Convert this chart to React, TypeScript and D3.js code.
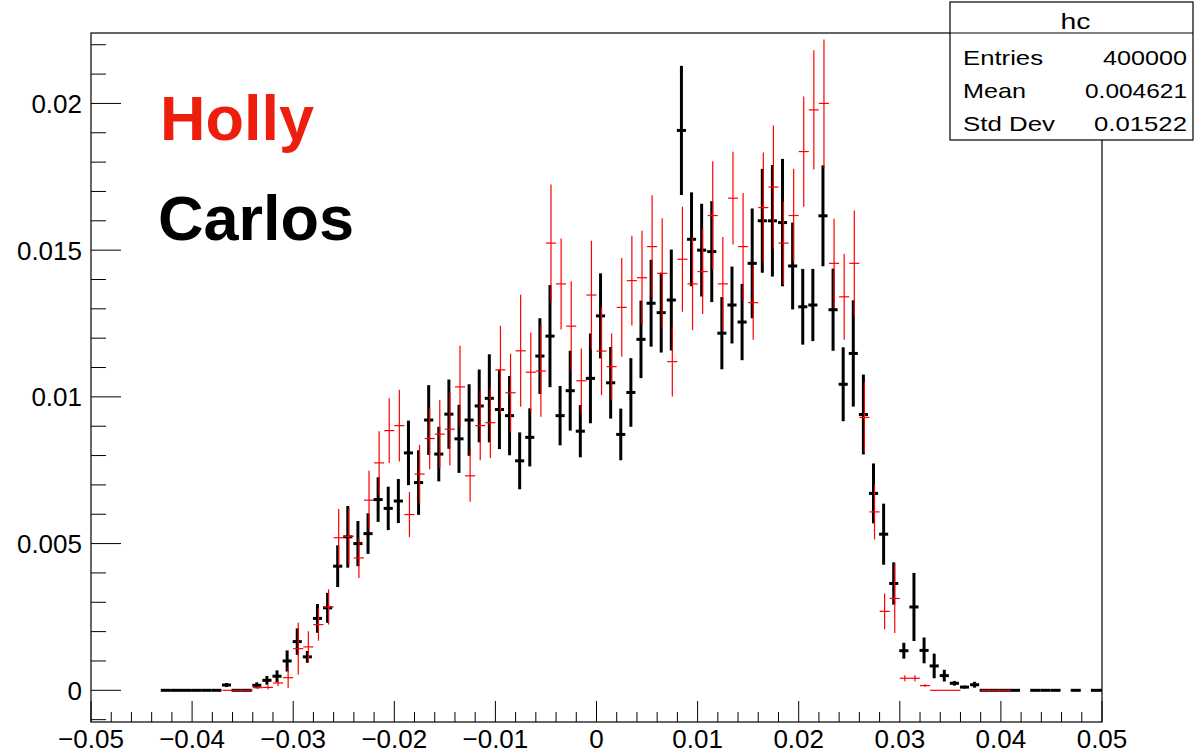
import React from "react";
import * as d3 from "d3";

// Histogram definition (bin k spans BIN_LOW + k*BIN_WIDTH .. +BIN_WIDTH)
const BIN_LOW = -0.0431;
const BIN_WIDTH = 0.001;
const UNIT = 1e-3; // values below are in units of 1e-3

// Carlos (black), starting at bin 0; null = not drawn
const carlosValues: (number | null)[] = [
  0, 0, 0, 0, 0, 0, 0.18, 0, 0, 0.17,
  0.34, 0.48, 1.0, 1.66, 1.14, 2.45, 2.81, 4.23, 5.23, 5.0,
  5.34, 6.5, 6.2, 6.45, 8.09, 7.08, 9.21, 8.05, 9.41, 8.57,
  9.21, 9.69, 9.95, 9.57, 9.36, 7.82, 8.62, 11.39, 12.07, 9.36,
  10.21, 8.83, 10.63, 12.76, 10.48, 8.72, 10.15, 11.96, 13.19, 12.87,
  13.3, 19.08, 15.37, 15.0, 14.95, 12.17, 13.13, 12.55, 14.55, 16.0,
  16.0, 15.94, 14.46, 13.07, 13.13, 16.17, 12.97, 10.43, 11.48, 9.4,
  6.71, 5.32, 3.64, 1.35, 2.84, 1.36, 0.83, 0.5, 0.24, 0.11,
  0.19, 0, 0, 0, 0, null, 0, 0, 0, null,
  0, null, 0, 0,
];
const carlosErrors: number[] = [
  0, 0, 0, 0, 0, 0, 0.07, 0, 0, 0.1,
  0.15, 0.2, 0.36, 0.45, 0.2, 0.49, 0.51, 0.71, 1.05, 0.77,
  0.69, 0.76, 0.74, 0.75, 1.1, 1.1, 1.19, 0.93, 1.18, 1.16,
  1.22, 1.24, 1.5, 1.35, 1.35, 0.97, 0.99, 1.29, 1.74, 1.01,
  1.36, 0.89, 1.53, 1.45, 1.22, 0.88, 1.17, 1.32, 1.48, 1.36,
  1.72, 2.2, 1.6, 1.58, 1.72, 1.23, 1.31, 1.3, 1.87, 1.77,
  1.9, 2.17, 1.48, 1.29, 1.23, 1.72, 1.4, 1.26, 1.81, 1.36,
  1.02, 1.04, 0.72, 0.27, 1.16, 0.44, 0.42, 0.2, 0.08, 0.05,
  0.1, 0, 0, 0, 0, 0, 0, 0, 0, 0,
  0, 0, 0, 0,
];

// Holly (red), starting at bin HOLLY_FIRST_BIN
const HOLLY_FIRST_BIN = 6;
const hollyValues: (number | null)[] = [
  0, 0, 0, 0.09, 0.1, 0.25, 0.43, 1.42, 1.48, 2.24,
  2.84, 5.2, 5.25, 4.51, 6.48, 7.75, 8.85, 9.02, 5.99, 7.37,
  8.58, 8.73, 8.9, 10.34, 7.31, 9.02, 9.12, 10.92, 10.14, 11.57,
  10.84, 10.88, 15.24, 13.85, 12.41, 10.55, 13.47, 11.56, 11.03, 13.05,
  13.96, 14.06, 15.12, 14.21, 11.2, 14.69, 13.85, 14.27, 16.18, 13.85,
  16.77, 15.12, 13.21, 16.45, 17.15, 15.24, 16.18, 18.36, 19.78, 20.0,
  14.55, 13.41, 14.55, 9.3, 6.08, 2.69, 3.13, 0.41, 0.41, 0.16,
  0, 0, 0, null, null, 0, 0, 0,
];
const hollyErrors: number[] = [
  0, 0, 0, 0.05, 0.07, 0.1, 0.35, 0.88, 0.53, 0.55,
  0.6, 0.98, 0.95, 0.68, 1.0, 1.08, 1.1, 1.22, 0.77, 1.0,
  1.05, 1.16, 1.24, 1.4, 0.88, 1.18, 1.2, 1.5, 1.33, 1.91,
  1.35, 1.56, 2.0, 1.55, 1.53, 1.1, 1.85, 1.5, 1.13, 1.68,
  1.53, 1.6, 1.75, 1.88, 1.19, 1.79, 1.58, 1.45, 1.85, 1.6,
  1.58, 1.83, 1.26, 1.88, 2.1, 1.42, 1.59, 1.88, 2.03, 2.18,
  1.52, 1.46, 1.8, 1.2, 0.94, 0.61, 1.18, 0.1, 0.1, 0.05,
  0, 0, 0, 0, 0, 0, 0, 0,
];

const xMajorTicks = [-0.05, -0.04, -0.03, -0.02, -0.01, 0, 0.01, 0.02, 0.03, 0.04, 0.05];
const xTickLabels = ["\u22120.05", "\u22120.04", "\u22120.03", "\u22120.02", "\u22120.01", "0", "0.01", "0.02", "0.03", "0.04", "0.05"];
const yMajorTicks = [0, 0.005, 0.01, 0.015, 0.02];
const yTickLabels = ["0", "0.005", "0.01", "0.015", "0.02"];

const statsTitle = "hc";
const statsLabels = ["Entries", "Mean", "Std Dev"];
const statsValues = ["400000", "0.004621", "0.01522"];

const W = 1204;
const H = 754;
const FRAME = { left: 91, right: 1102, top: 33, bottom: 722 };
const FONT = "'Liberation Sans', Arial, Helvetica, sans-serif";

type Bin = { k: number; v: number; e: number };

function toBins(values: (number | null)[], errors: number[], first: number): Bin[] {
  const out: Bin[] = [];
  values.forEach((v, i) => {
    if (v === null) return;
    out.push({ k: first + i, v: v * UNIT, e: errors[i] * UNIT });
  });
  return out;
}

export default function App() {
  const x = d3.scaleLinear().domain([-0.05, 0.05]).range([FRAME.left, FRAME.right]);
  const y = d3.scaleLinear().domain([-0.00108, 0.0224]).range([FRAME.bottom, FRAME.top]);

  const carlos = toBins(carlosValues, carlosErrors, 0);
  const holly = toBins(hollyValues, hollyErrors, HOLLY_FIRST_BIN);

  const lo = (k: number) => BIN_LOW + k * BIN_WIDTH;
  const hi = (k: number) => BIN_LOW + (k + 1) * BIN_WIDTH;
  const mid = (k: number) => BIN_LOW + (k + 0.5) * BIN_WIDTH;

  const xMinor = d3.range(-0.05, 0.0501, 0.002).filter(
    (t) => !xMajorTicks.some((m) => Math.abs(m - t) < 1e-9)
  );
  const yMinor = d3.range(-0.001, 0.02251, 0.001).filter(
    (t) => !yMajorTicks.some((m) => Math.abs(m - t) < 1e-9)
  );

  const statsBox = { x: 950, y: 2, w: 243, h: 138 };
  const statsLabelLen = [80, 63, 92];
  const statsValueLen = [84, 102, 93];

  return (
    <svg width={W} height={H} style={{ position: "absolute", left: 0, top: 0, background: "#fff" }}>
      <defs>
        <clipPath id="frameClip">
          <rect x={FRAME.left} y={FRAME.top} width={FRAME.right - FRAME.left} height={FRAME.bottom - FRAME.top} />
        </clipPath>
      </defs>
      <rect x={0} y={0} width={W} height={H} fill="#fff" />

      {/* Carlos (black) */}
      <g clipPath="url(#frameClip)" stroke="#000" strokeWidth={3} fill="none">
        {carlos.map((b) => (
          <g key={"c" + b.k}>
            <line x1={x(lo(b.k)) + (b.v === 0 ? 0 : 0.5)} x2={x(hi(b.k)) - (b.v === 0 ? 0 : 0.5)} y1={y(b.v)} y2={y(b.v)} />
            {b.e > 0 && <line x1={x(mid(b.k))} x2={x(mid(b.k))} y1={y(b.v - b.e)} y2={y(b.v + b.e)} />}
          </g>
        ))}
      </g>

      {/* Holly (red) */}
      <g clipPath="url(#frameClip)" stroke="#ff0000" strokeWidth={1.2} fill="none">
        {holly.map((b) => (
          <g key={"h" + b.k}>
            <line x1={x(lo(b.k)) + 1} x2={x(hi(b.k)) + 1} y1={y(b.v)} y2={y(b.v)} />
            {b.e > 0 && <line x1={x(mid(b.k)) + 1} x2={x(mid(b.k)) + 1} y1={y(b.v - b.e)} y2={y(b.v + b.e)} />}
          </g>
        ))}
      </g>

      {/* Frame */}
      <rect x={FRAME.left} y={FRAME.top} width={FRAME.right - FRAME.left} height={FRAME.bottom - FRAME.top}
        fill="none" stroke="#000" strokeWidth={1.2} />

      {/* X axis ticks */}
      <g stroke="#000" strokeWidth={1}>
        {xMajorTicks.map((t) => (
          <line key={"xM" + t} x1={x(t)} x2={x(t)} y1={FRAME.bottom} y2={FRAME.bottom - 21} />
        ))}
        {xMinor.map((t) => (
          <line key={"xm" + t} x1={x(t)} x2={x(t)} y1={FRAME.bottom} y2={FRAME.bottom - 10} />
        ))}
        {yMajorTicks.map((t) => (
          <line key={"yM" + t} x1={FRAME.left} x2={FRAME.left + 30} y1={y(t)} y2={y(t)} />
        ))}
        {yMinor.map((t) => (
          <line key={"ym" + t} x1={FRAME.left} x2={FRAME.left + 15} y1={y(t)} y2={y(t)} />
        ))}
      </g>

      <g fontFamily={FONT} fontSize={26} fill="#000">
        {xMajorTicks.map((t, i) => (
          <text key={"xl" + t} x={x(t)} y={748} textAnchor="middle">{xTickLabels[i]}</text>
        ))}
        {yMajorTicks.map((t, i) => (
          <text key={"yl" + t} x={82} y={y(t) + 9.5} textAnchor="end">{yTickLabels[i]}</text>
        ))}
      </g>

      {/* Legend-like labels */}
      <text x={160} y={140} fontFamily={FONT} fontWeight="bold" fontSize={63} fill="#ee1e0e">Holly</text>
      <text x={158} y={240} fontFamily={FONT} fontWeight="bold" fontSize={63} fill="#000">Carlos</text>

      {/* Stats box */}
      <g fontFamily={FONT} fill="#000">
        <rect x={statsBox.x} y={statsBox.y} width={statsBox.w} height={statsBox.h} fill="#fff" stroke="#000" strokeWidth={1.2} />
        <line x1={statsBox.x} x2={statsBox.x + statsBox.w} y1={FRAME.top} y2={FRAME.top} stroke="#000" strokeWidth={1.2} />
        <text x={statsBox.x + statsBox.w / 2 + 4} y={29} textAnchor="middle" fontSize={22}
          textLength={30} lengthAdjust="spacingAndGlyphs">{statsTitle}</text>
        {statsLabels.map((l, i) => (
          <text key={l} x={963} y={65 + i * 33} fontSize={21} textLength={statsLabelLen[i]} lengthAdjust="spacingAndGlyphs">{l}</text>
        ))}
        {statsValues.map((v, i) => (
          <text key={v} x={1187 - statsValueLen[i]} y={65 + i * 33} fontSize={21} textLength={statsValueLen[i]} lengthAdjust="spacingAndGlyphs">{v}</text>
        ))}
      </g>
    </svg>
  );
}
